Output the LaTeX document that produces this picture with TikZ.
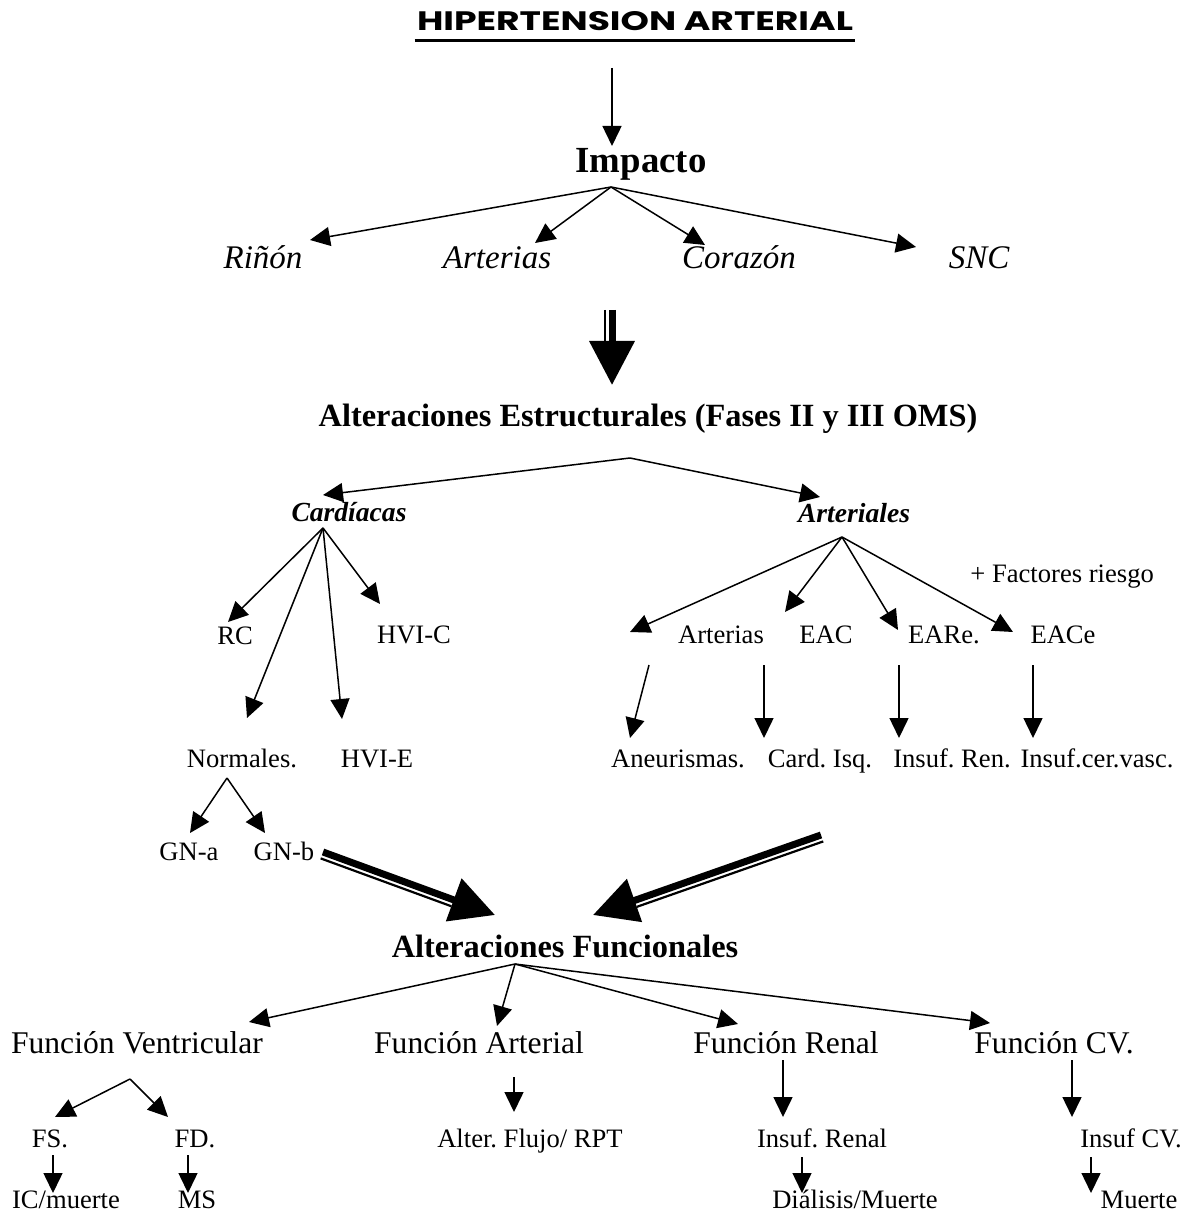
\documentclass[tikz,border=0pt]{standalone}
\usepackage{fontspec}
\usepackage{graphicx}
\setmainfont{Liberation Serif}
\newfontfamily\titlefont{Poppins}
\usetikzlibrary{arrows.meta,positioning,calc}
\frenchspacing

\begin{document}
\begin{tikzpicture}[
  x=0.5pt, y=-0.5pt,
  lbl/.style={anchor=base, inner sep=0pt, font=\fontsize{13.3}{16}\selectfont},
  fn/.style={lbl, font=\fontsize{15.8}{19}\selectfont},
  organ/.style={lbl, font=\fontsize{16.5}{20}\selectfont\itshape},
  heading/.style={lbl, font=\fontsize{16.2}{20}\selectfont\bfseries},
  branch/.style={lbl, font=\fontsize{13.8}{16}\selectfont\bfseries\itshape},
  arr/.style={-{Triangle[length=10pt,width=9.5pt]}, line width=0.75pt},
  bigarr/.style={-{Triangle[length=22pt,width=22pt]}, line width=3.5pt},
  rail/.style={line width=1.1pt}
]
\useasboundingbox (0,0) rectangle (1195,1213);

% titulo
\node[anchor=base, inner sep=0pt] (titulo) at (635,31)
  {\resizebox{218pt}{9.5pt}{\titlefont\bfseries HIPERTENSION ARTERIAL}};
\draw[line width=1.5pt] ($(titulo.base west)+(-2,9.5)$) -- ($(titulo.base east)+(2,9.5)$);

% impacto
\node[heading, font=\fontsize{18.4}{22}\selectfont\bfseries] (impacto) at (641,173) {Impacto};
\node[organ] (rinon) at (263,269) {Riñón};
\node[organ] (arterias) at (497,269) {Arterias};
\node[organ] (corazon) at (739,269) {Corazón};
\node[organ] (snc) at (979,269) {SNC};

\coordinate (tit-s) at (612,68);
\coordinate (imp-n) at (612,146);
\coordinate (imp-s) at (611,187);
\coordinate (rinon-t) at (310,240);
\coordinate (arterias-t) at (535,243);
\coordinate (corazon-t) at (705,245);
\coordinate (snc-t) at (916,247);

\draw[arr] (tit-s) -- (imp-n);
\foreach \t in {rinon-t, arterias-t, corazon-t, snc-t}
  \draw[arr] (imp-s) -- (\t);

% flecha doble hacia las alteraciones estructurales
\coordinate (big1-a) at (612,310);
\coordinate (big1-b) at (612,385);
\draw[bigarr] (big1-a) -- (big1-b);
\draw[rail, shorten >=22pt] ($(big1-a)!3.4pt!-90:(big1-b)$) -- ($(big1-b)!3.4pt!90:(big1-a)$);

% alteraciones estructurales
\node[heading] (estruct) at (648,426) {Alteraciones Estructurales (Fases II y III OMS)};
\node[branch] (cardiacas) at (349,521) {Cardíacas};
\node[branch] (arteriales) at (854,522) {Arteriales};

\coordinate (est-s) at (630,458);
\coordinate (card-t) at (323,495);
\coordinate (art-t) at (820,497);
\draw[arr] (est-s) -- (card-t);
\draw[arr] (est-s) -- (art-t);

% cardiacas
\node[lbl] (rc) at (235,644) {RC};
\node[lbl] (hvic) at (414,643) {HVI-C};
\node[lbl] (normales) at (242,767) {Normales.};
\node[lbl] (hvie) at (377,767) {HVI-E};
\node[lbl] (gna) at (189,860) {GN-a};
\node[lbl] (gnb) at (284,860) {GN-b};

\coordinate (card-s) at (323,528);
\coordinate (rc-t) at (228,622);
\coordinate (hvic-t) at (380,604);
\coordinate (norm-t) at (247,718);
\coordinate (hvie-t) at (342,719);
\foreach \t in {rc-t, norm-t, hvie-t, hvic-t}
  \draw[arr] (card-s) -- (\t);

\coordinate (norm-s) at (227,778);
\coordinate (gna-t) at (190,833);
\coordinate (gnb-t) at (265,833);
\draw[arr] (norm-s) -- (gna-t);
\draw[arr] (norm-s) -- (gnb-t);

% arteriales
\node[lbl, anchor=base west] (riesgo) at (970,582) {+ Factores riesgo};
\node[lbl] (art2) at (721,643) {Arterias};
\node[lbl] (eac) at (826,643) {EAC};
\node[lbl] (eare) at (944,643) {EARe.};
\node[lbl] (eace) at (1063,643) {EACe};
\node[lbl] (aneur) at (678,767) {Aneurismas.};
\node[lbl] (cardisq) at (820,767) {Card. Isq.};
\node[lbl] (insren) at (952,767) {Insuf. Ren.};
\node[lbl] (inscer) at (1097,767) {Insuf.cer.vasc.};

\coordinate (art-s) at (842,537);
\coordinate (art2-t) at (630,632);
\coordinate (eac-t) at (785,612);
\coordinate (eare-t) at (898,630);
\coordinate (eace-t) at (1013,632);
\foreach \t in {art2-t, eac-t, eare-t, eace-t}
  \draw[arr] (art-s) -- (\t);

\coordinate (aneur-a) at (649,665);  \coordinate (aneur-b) at (630,738);
\coordinate (cardisq-a) at (764,665); \coordinate (cardisq-b) at (764,738);
\coordinate (insren-a) at (899,665);  \coordinate (insren-b) at (899,738);
\coordinate (inscer-a) at (1033,665); \coordinate (inscer-b) at (1033,738);
\foreach \n in {aneur, cardisq, insren, inscer}
  \draw[arr] (\n-a) -- (\n-b);

% flechas dobles hacia las alteraciones funcionales
\coordinate (big2-a) at (323,852);
\coordinate (big2-b) at (495,915);
\coordinate (big3-a) at (821,835);
\coordinate (big3-b) at (593,915);
\draw[bigarr] (big2-a) -- (big2-b);
\draw[rail, shorten >=22pt] ($(big2-a)!3.4pt!-90:(big2-b)$) -- ($(big2-b)!3.4pt!90:(big2-a)$);
\draw[bigarr] (big3-a) -- (big3-b);
\draw[rail, shorten >=22pt] ($(big3-a)!3.4pt!90:(big3-b)$) -- ($(big3-b)!3.4pt!-90:(big3-a)$);

% alteraciones funcionales
\node[heading] (funcional) at (565,957) {Alteraciones Funcionales};
\node[fn] (fventr) at (137,1053) {Función Ventricular};
\node[fn] (fart) at (479,1053) {Función Arterial};
\node[fn] (fren) at (786,1053) {Función Renal};
\node[fn] (fcv) at (1054,1053) {Función CV.};

\coordinate (fun-s) at (515,964);
\coordinate (fventr-t) at (249,1022);
\coordinate (fart-t) at (497,1026);
\coordinate (fren-t) at (738,1024);
\coordinate (fcv-t) at (990,1023);
\foreach \t in {fventr-t, fart-t, fren-t, fcv-t}
  \draw[arr] (fun-s) -- (\t);

% consecuencias
\node[lbl] (fs) at (50,1147) {FS.};
\node[lbl] (fd) at (195,1147) {FD.};
\node[lbl] (ic) at (66,1208) {IC/muerte};
\node[lbl] (ms) at (197,1208) {MS};
\node[lbl] (flujo) at (530,1147) {Alter. Flujo/ RPT};
\node[lbl] (insrenal) at (822,1147) {Insuf. Renal};
\node[lbl] (dialisis) at (855,1208) {Diálisis/Muerte};
\node[lbl] (inscv) at (1131,1147) {Insuf CV.};
\node[lbl] (muerte) at (1139,1208) {Muerte};

\coordinate (fventr-s) at (130,1079);
\coordinate (fs-t) at (55,1117);
\coordinate (fd-t) at (168,1117);
\draw[arr] (fventr-s) -- (fs-t);
\draw[arr] (fventr-s) -- (fd-t);

\coordinate (ic-a) at (53,1155);        \coordinate (ic-b) at (53,1193);
\coordinate (ms-a) at (188,1155);       \coordinate (ms-b) at (188,1193);
\coordinate (flujo-a) at (514,1077);    \coordinate (flujo-b) at (514,1112);
\coordinate (insrenal-a) at (783,1060); \coordinate (insrenal-b) at (783,1117);
\coordinate (dialisis-a) at (802,1157); \coordinate (dialisis-b) at (802,1193);
\coordinate (inscv-a) at (1072,1060);   \coordinate (inscv-b) at (1072,1117);
\coordinate (muerte-a) at (1091,1157);  \coordinate (muerte-b) at (1091,1193);
\foreach \n in {ic, ms, flujo, insrenal, dialisis, inscv, muerte}
  \draw[arr] (\n-a) -- (\n-b);
\end{tikzpicture}
\end{document}
